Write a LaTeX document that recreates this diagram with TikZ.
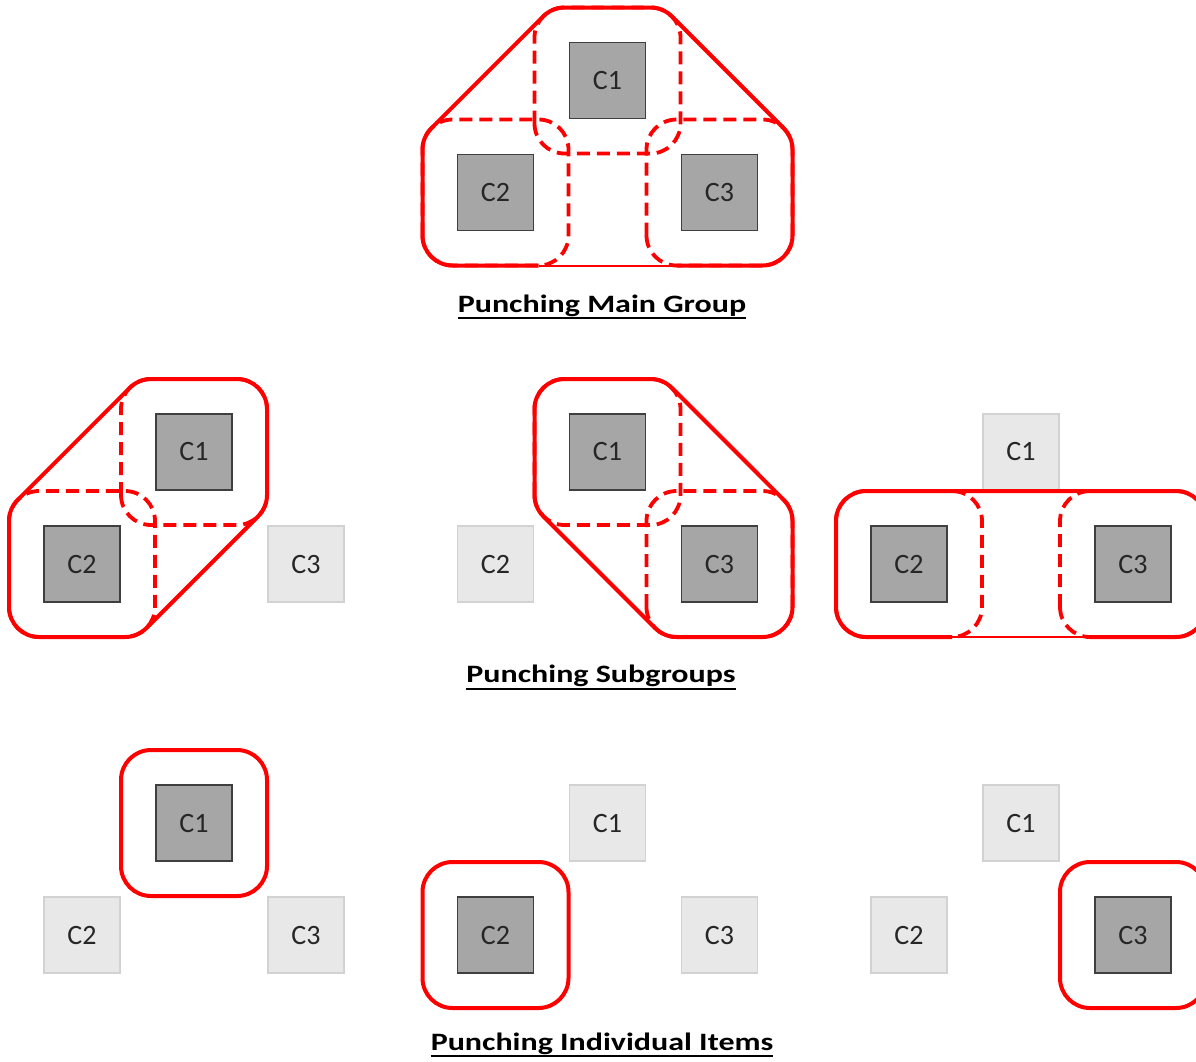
\documentclass[tikz,border=0pt]{standalone}
\usepackage{fontspec}
\setmainfont{Carlito}
\usepackage{graphicx}
\usetikzlibrary{calc}
\definecolor{dkf}{HTML}{A6A6A6}
\definecolor{dkb}{HTML}{3F3F3F}
\definecolor{ltf}{HTML}{E8E8E8}
\definecolor{ltb}{HTML}{D2D2D2}
\definecolor{pred}{HTML}{FF0000}
\begin{document}
\begin{tikzpicture}[x=1pt,y=1pt,
 dbox/.style={draw=dkb, fill=dkf, line width=1.5pt, minimum size=76pt, inner sep=0pt, font=\fontsize{28}{32}\selectfont, text=black!85},
 lbox/.style={draw=ltb, fill=ltf, line width=1.5pt, minimum size=76pt, inner sep=0pt, font=\fontsize{28}{32}\selectfont, text=black!85},
 solidred/.style={draw=pred, line width=4pt, line join=round},
 thinred/.style={draw=pred, line width=2pt},
 dashred/.style={draw=pred, line width=3.8pt, dash pattern=on 13pt off 7pt, rounded corners=30pt},
 ring/.style={draw=pred, line width=4pt, rounded corners=30pt},
 heading/.style={anchor=base, inner sep=0pt, font=\bfseries\fontsize{25}{30}\selectfont},
 uline/.style={line width=2pt, draw=black}]
\useasboundingbox (0,-1061) rectangle (1196,0);
\clip (0,-1061) rectangle (1196,0);

% ---------- main group ----------
\node[dbox] (m1) at (607.5,-80.5) {C1};
\node[dbox] (m2) at (495.5,-192.5) {C2};
\node[dbox] (m3) at (719.5,-192.5) {C3};
\begin{scope}[shift={(m1.center)}]
 \draw[dashred] (-73,-73) rectangle (73,73);
 \draw[dashred] (-185,-185) rectangle (-39,-39);
 \draw[dashred] (39,-185) rectangle (185,-39);
 \draw[solidred] (-69,-185) -- (-155,-185) arc[start angle=-90,end angle=-180,radius=30]
   -- (-185,-69) arc[start angle=180,end angle=135,radius=30]
   -- (-64.21,64.21) arc[start angle=135,end angle=90,radius=30]
   -- (43,73) arc[start angle=90,end angle=45,radius=30]
   -- (176.21,-47.79) arc[start angle=45,end angle=0,radius=30]
   -- (185,-155) arc[start angle=0,end angle=-90,radius=30]
   -- (69,-185);
 \draw[thinred] (69,-185) -- (-69,-185);
\end{scope}
\node[heading] (h1) at (602,-312) {\scalebox{1.28}[1]{Punching Main Group}};
\draw[uline] ($(h1.base west)+(0,-6)$) -- ($(h1.base east)+(0,-6)$);

% ---------- subgroups ----------
\node[dbox] (sa1) at (194,-452) {C1};
\node[dbox] (sa2) at (82,-564) {C2};
\node[lbox] (sa3) at (306,-564) {C3};
\node[dbox] (sb1) at (607.5,-452) {C1};
\node[lbox] (sb2) at (495.5,-564) {C2};
\node[dbox] (sb3) at (719.5,-564) {C3};
\node[lbox] (sc1) at (1021,-452) {C1};
\node[dbox] (sc2) at (909,-564) {C2};
\node[dbox] (sc3) at (1133,-564) {C3};

\begin{scope}[shift={(sa1.center)}]
 \draw[dashred] (-73,-73) rectangle (73,73);
 \draw[dashred] (-185,-185) rectangle (-39,-39);
 \draw[solidred] (-43,73) -- (43,73) arc[start angle=90,end angle=0,radius=30]
   -- (73,-43) arc[start angle=0,end angle=-45,radius=30]
   -- (-47.79,-176.21) arc[start angle=-45,end angle=-90,radius=30]
   -- (-155,-185) arc[start angle=-90,end angle=-180,radius=30]
   -- (-185,-69) arc[start angle=180,end angle=135,radius=30]
   -- (-64.21,64.21) arc[start angle=135,end angle=90,radius=30] -- cycle;
\end{scope}

\begin{scope}[shift={(sb1.center)}]
 \draw[dashred] (-73,-73) rectangle (73,73);
 \draw[dashred] (39,-185) rectangle (185,-39);
 \draw[solidred] (-43,73) -- (43,73) arc[start angle=90,end angle=45,radius=30]
   -- (176.21,-47.79) arc[start angle=45,end angle=0,radius=30]
   -- (185,-155) arc[start angle=0,end angle=-90,radius=30]
   -- (69,-185) arc[start angle=-90,end angle=-135,radius=30]
   -- (-64.21,-64.21) arc[start angle=-135,end angle=-180,radius=30]
   -- (-73,43) arc[start angle=180,end angle=90,radius=30] -- cycle;
\end{scope}

\begin{scope}[shift={(sc1.center)}]
 \draw[dashred] (-185,-185) rectangle (-39,-39);
 \draw[dashred] (39,-185) rectangle (185,-39);
 \draw[solidred] (-69,-185) -- (-155,-185) arc[start angle=-90,end angle=-180,radius=30]
   -- (-185,-69) arc[start angle=180,end angle=90,radius=30]
   -- (155,-39) arc[start angle=90,end angle=0,radius=30]
   -- (185,-155) arc[start angle=0,end angle=-90,radius=30]
   -- (69,-185);
 \draw[thinred] (69,-185) -- (-69,-185);
\end{scope}
\node[heading] (h2) at (601,-682) {\scalebox{1.28}[1]{Punching Subgroups}};
\draw[uline] ($(h2.base west)+(0,-7)$) -- ($(h2.base east)+(0,-7)$);

% ---------- individual items ----------
\node[dbox] (ia1) at (194,-823) {C1};
\node[lbox] (ia2) at (82,-935) {C2};
\node[lbox] (ia3) at (306,-935) {C3};
\node[lbox] (ib1) at (607.5,-823) {C1};
\node[dbox] (ib2) at (495.5,-935) {C2};
\node[lbox] (ib3) at (719.5,-935) {C3};
\node[lbox] (ic1) at (1021,-823) {C1};
\node[lbox] (ic2) at (909,-935) {C2};
\node[dbox] (ic3) at (1133,-935) {C3};

\draw[ring] ($(ia1)+(-73,-73)$) rectangle ($(ia1)+(73,73)$);
\draw[ring] ($(ib2)+(-73,-73)$) rectangle ($(ib2)+(73,73)$);
\draw[ring] ($(ic3)+(-73,-73)$) rectangle ($(ic3)+(73,73)$);

\node[heading] (h3) at (602,-1050) {\scalebox{1.28}[1]{Punching Individual Items}};
\draw[uline] ($(h3.base west)+(0,-6)$) -- ($(h3.base east)+(0,-6)$);
\end{tikzpicture}
\end{document}
